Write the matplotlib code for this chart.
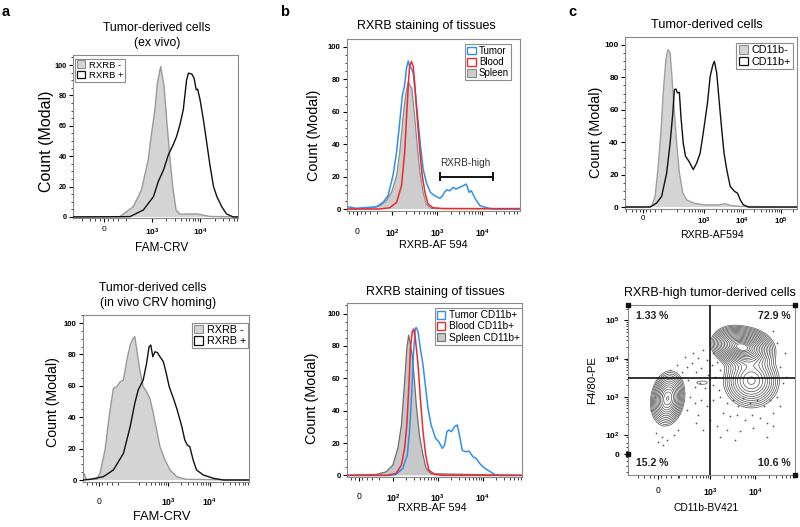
import numpy as np
import matplotlib
matplotlib.use('Agg')
import matplotlib.pyplot as plt
from matplotlib.patches import Patch
from matplotlib.ticker import FixedLocator, MultipleLocator

plt.rcParams['font.family'] = ['Liberation Sans', 'DejaVu Sans']
plt.rcParams['mathtext.fontset'] = 'custom'
plt.rcParams['mathtext.rm'] = 'Liberation Sans'
plt.rcParams['mathtext.bf'] = 'Liberation Sans:bold'
plt.rcParams['mathtext.it'] = 'Liberation Sans:italic'

# ---------------- data (x in display-decade units of the cytometer axis) ----------------
# Panel a, top: FAM-CRV ex vivo
a1_neg_x = [1.35, 2.33, 2.61, 2.78, 2.92, 2.99, 3.06, 3.11, 3.18, 3.25, 3.31, 3.375, 3.44, 3.50, 3.58, 3.93, 4.21, 4.79]
a1_neg_y = [0, 0.2, 6.8, 17.8, 37.6, 55.2, 70.5, 88, 99, 86, 62, 37.6, 17.8, 4.6, 1.8, 2, 0.3, 0]
a1_pos_x = [1.35, 2.54, 2.82, 3.03, 3.13, 3.24, 3.34, 3.44, 3.51, 3.58, 3.65, 3.72, 3.76, 3.83, 3.875,
            3.92, 3.95, 4.0, 4.07, 4.14, 4.21, 4.28, 4.35, 4.45, 4.55, 4.69, 4.79]
a1_pos_y = [0, 0.2, 4.6, 13.4, 23.3, 31, 40.9, 47.5, 52.9, 60.6, 70.5, 90.3, 94.7, 94, 91.4,
            83.7, 84.1, 77.1, 63.9, 48.6, 33.2, 20, 13.4, 6.8, 2, 0, 0]

# Panel a, bottom: FAM-CRV in vivo homing
a2_neg_x = [0.98, 1.0, 1.06, 1.30, 1.38, 1.50, 1.62, 1.70, 1.78, 1.86, 1.94, 2.02, 2.10, 2.17, 2.21,
            2.27, 2.33, 2.41, 2.49, 2.57, 2.65, 2.73, 2.81, 2.93, 3.05, 3.21, 3.44, 4.93]
a2_neg_y = [3, 4.2, 0.4, 0.4, 4.2, 19.1, 44.6, 58.4, 59.4, 62.6, 63.7, 76.4, 86, 90.2, 91.3,
            80.7, 70, 59.4, 56.2, 52, 42.5, 31.8, 21.2, 12.7, 6.4, 2.1, 0.4, 0]
a2_pos_x = [0.98, 1.14, 1.46, 1.70, 1.94, 2.10, 2.21, 2.29, 2.41, 2.49, 2.55, 2.59, 2.64, 2.69, 2.75,
            2.81, 2.89, 2.95, 3.03, 3.13, 3.22, 3.33, 3.40, 3.46, 3.52, 3.60, 3.68, 3.84, 4.08, 4.32, 4.93]
a2_pos_y = [0, 0.4, 2.1, 6.4, 17, 34, 48.9, 57.3, 63.7, 74.3, 84.9, 86, 78.5, 81.7, 81.1,
            78.5, 75.4, 69, 59.4, 52, 44.6, 34, 25.5, 22.3, 21.2, 12.7, 6.4, 3.2, 1.1, 0, 0]

# Panel b, top: RXRB staining of tissues
b1_spl_x = [1.0, 1.50, 1.73, 1.87, 1.99, 2.10, 2.17, 2.24, 2.30, 2.36, 2.39, 2.44, 2.50, 2.56, 2.62,
            2.69, 2.76, 2.87, 4.84]
b1_spl_y = [0, 0.4, 2.1, 5.1, 10.3, 20.6, 35, 55.6, 70.4, 78.6, 76.5, 74.5, 57.6, 39.1, 22.6,
            10.3, 3.1, 0.4, 0]
b1_bld_x = [1.0, 1.73, 1.95, 2.10, 2.21, 2.28, 2.32, 2.36, 2.39, 2.43, 2.47, 2.50, 2.56, 2.62, 2.67,
            2.73, 2.80, 2.91, 3.13, 4.84]
b1_bld_y = [0, 0, 0.8, 4.1, 14.4, 35, 55.6, 76.5, 87.9, 91, 87.9, 78.6, 55.6, 35, 20.6,
            10.3, 3.1, 0.8, 0.3, 0.3]
b1_tum_x = [1.0, 1.2, 1.65, 1.80, 1.91, 2.02, 2.10, 2.17, 2.23, 2.28, 2.32, 2.36, 2.39, 2.43, 2.47,
            2.52, 2.58, 2.63, 2.69, 2.76, 2.85, 2.95, 3.06, 3.12, 3.17, 3.22, 3.28, 3.36, 3.42, 3.50,
            3.58, 3.65, 3.71, 3.76, 3.84, 3.95, 4.10, 4.24, 4.84]
b1_tum_y = [1.5, 0.5, 1.4, 4.1, 8.2, 20.6, 35, 53.5, 70.4, 76.5, 86.8, 91.4, 87.9, 86.8, 83.7,
            70.4, 53.5, 39.1, 24.7, 16.5, 10.3, 8.2, 6.6, 8.2, 10.7, 11.9, 11.3, 13.4, 12.3, 13.4,
            14.4, 15.4, 10.3, 11.3, 6.6, 2.1, 0.8, 0, 0]
b1_high_range = [3.07, 4.23]

# Panel b, bottom: CD11b+ cells
b2_spl_x = [0.98, 1.63, 1.85, 2.0, 2.11, 2.19, 2.26, 2.31, 2.35, 2.38, 2.43, 2.47, 2.52, 2.59, 2.67,
            2.74, 2.85, 4.87]
b2_spl_y = [0, 0.6, 2.2, 6.4, 16.7, 31.1, 57.8, 78.4, 86.6, 82.5, 74.2, 61.9, 43.5, 24.9, 12.5,
            4.3, 1.0, 0]
b2_bld_x = [0.98, 1.85, 2.07, 2.19, 2.26, 2.31, 2.36, 2.39, 2.43, 2.46, 2.50, 2.56, 2.61, 2.67, 2.73,
            2.80, 2.93, 3.11, 4.87]
b2_bld_y = [0, 0, 1.2, 6.4, 16.7, 31.1, 57.8, 78.4, 88.7, 90.4, 84.6, 68.1, 47.6, 27, 12.5,
            3.2, 0.6, 0, 0]
b2_tum_x = [0.98, 1.93, 2.07, 2.22, 2.32, 2.37, 2.42, 2.46, 2.50, 2.52, 2.56, 2.61, 2.67, 2.73, 2.78,
            2.85, 2.95, 3.02, 3.10, 3.15, 3.20, 3.24, 3.30, 3.37, 3.43, 3.48, 3.54, 3.61, 3.69, 3.78,
            3.85, 3.93, 4.0, 4.11, 4.26, 4.37, 4.87]
b2_tum_y = [0, 0, 0.6, 4.3, 12.5, 27, 51.7, 76.3, 90.9, 91.3, 88.7, 78.4, 68.1, 53.7, 41.4,
            31.1, 22.8, 20.8, 16.7, 18.7, 27, 28, 27, 30.1, 31.1, 24.9, 15.6, 14.6, 15, 11.5,
            10.5, 7.4, 5.3, 3.2, 0.6, 0, 0]

# Panel c, top: CD11b- / CD11b+
c1_neg_x = [0.95, 1.64, 1.73, 1.81, 1.88, 1.94, 2.01, 2.06, 2.12, 2.16, 2.22, 2.29, 2.36, 2.45, 2.55,
            2.72, 2.98, 3.42, 3.55, 3.68, 3.94, 5.41]
c1_neg_y = [0, 0.4, 6.6, 25.1, 45.7, 70.4, 91, 97.1, 95.1, 82.7, 62.1, 39.5, 21, 8.6, 4.5,
            2.5, 1.4, 1.4, 2.1, 1.0, 0.4, 0]
c1_pos_x = [0.95, 1.60, 1.77, 1.90, 2.03, 2.12, 2.19, 2.23, 2.27, 2.31, 2.36, 2.40, 2.46, 2.52, 2.61,
            2.72, 2.81, 2.90, 2.98, 3.09, 3.16, 3.23, 3.27, 3.33, 3.39, 3.46, 3.52, 3.59, 3.68, 3.79,
            3.87, 3.94, 4.02, 4.15, 5.41]
c1_pos_y = [0, 0, 2.5, 6.6, 21, 39.5, 58, 72.4, 72.8, 70.4, 70.8, 55.9, 39.5, 31.3, 28.2,
            23.1, 27.2, 33.3, 45.7, 64.2, 80.6, 87.8, 89.9, 82.7, 66.3, 47.7, 33.3, 23.1, 12.8, 9.7,
            8.6, 4.5, 1.4, 0, 0]

# Panel c, bottom: contour populations (x = CD11b, y = F4/80, display units)
pop_cx = [2.06, 3.78, 3.92, 3.45, 2.82]
pop_cy = [2.96, 4.28, 3.42, 4.42, 3.37]
pop_sx = [0.17, 0.28, 0.29, 0.20, 0.16]
pop_sy = [0.32, 0.23, 0.33, 0.20, 0.06]
pop_rho = [0.15, -0.1, 0.0, 0.0, 0.0]
pop_amp = [0.70, 1.00, 0.55, 0.35, 0.07]
quad_labels = ['1.33 %', '72.9 %', '15.2 %', '10.6 %']
dot_x = [2.48, 2.59, 2.70, 2.81, 2.93, 3.04, 3.15, 2.52, 2.67, 2.78, 2.89, 3.07, 3.19, 2.37, 2.26, 2.11,
         2.74, 2.96, 3.11, 3.22, 2.56, 2.67, 2.81, 2.48, 2.74, 2.93, 3.07, 3.22, 3.37, 3.52, 3.63, 3.74,
         3.89, 4.04, 4.19, 4.33, 4.48, 3.30, 3.44, 3.59, 3.78, 3.93, 4.11, 4.26, 4.41, 4.56, 3.15, 2.85,
         2.70, 3.0, 3.37, 3.67, 3.96, 4.26, 3.56, 3.22, 4.41, 1.81, 1.93, 2.04, 2.19, 1.85, 1.96, 2.30,
         4.56, 4.67, 4.48, 4.63, 4.70, 4.41, 2.63, 2.85, 3.07, 2.44, 1.70, 1.78, 2.41]
dot_y = [3.79, 3.88, 3.66, 3.75, 3.97, 3.84, 3.92, 3.44, 3.27, 3.36, 3.23, 3.31, 3.18, 3.66, 3.84, 3.71,
         4.01, 3.57, 3.53, 3.71, 3.01, 2.84, 2.92, 2.66, 2.53, 2.75, 2.92, 3.01, 2.84, 2.92, 2.75, 2.97,
         2.84, 2.92, 2.75, 2.92, 3.01, 2.57, 2.49, 2.53, 2.40, 2.53, 2.44, 2.31, 2.57, 2.75, 2.23, 2.14,
         2.31, 2.40, 2.14, 2.10, 2.18, 1.96, 1.88, 1.96, 2.23, 2.05, 1.96, 1.88, 2.01, 1.83, 1.75, 2.14,
         3.79, 4.14, 4.40, 3.36, 3.53, 4.71, 4.14, 4.23, 4.14, 4.05, 2.66, 3.01, 3.10]

# ---------------- figure ----------------
W, H = 800, 527
fig = plt.figure(figsize=(8, 5.27), dpi=100)


def rect(l, t, r, b):
    return [l / W, 1 - b / H, (r - l) / W, (b - t) / H]


def ftext(x, y, s, **kw):
    kw.setdefault('ha', 'center')
    kw.setdefault('va', 'center')
    fig.text(x / W, 1 - y / H, s, **kw)


def dec_label(n):
    return r'$\mathbf{10^{%d}}$' % n


def x_minors(zero, decades, xmin, xmax):
    pts = []
    for n in decades:
        for k in range(2, 10):
            v = n + np.log10(k)
            if xmin < v < xmax:
                pts.append(v)
    for off in (-0.45, -0.3, -0.18, -0.08, 0.08, 0.18, 0.3, 0.45):
        v = zero + off
        if xmin < v < xmax:
            pts.append(v)
    return pts


def style_axes(ax, xlim, ylim, xt, xtl, xminor, xpad, ysize=5.6, xsize=6.2):
    ax.set_xlim(xlim)
    ax.set_ylim(ylim)
    ax.set_xticks(xt)
    ax.set_xticklabels(xtl, fontsize=xsize)
    ax.xaxis.set_minor_locator(FixedLocator(xminor))
    ax.tick_params(which='major', direction='out', length=3, width=0.8, color='k')
    ax.tick_params(which='minor', direction='out', length=1.8, width=0.6, color='#222')
    ax.tick_params(axis='x', pad=xpad)
    ax.tick_params(axis='y', pad=1.5, labelsize=ysize)
    for lab in ax.get_yticklabels():
        lab.set_fontweight('bold')
    for sp in ax.spines.values():
        sp.set_color('#8a8a8a')
        sp.set_linewidth(0.8)


def hist_y(ax, ysize=5.6):
    ax.set_yticks([0, 20, 40, 60, 80, 100])
    ax.set_yticklabels(['0', '20', '40', '60', '80', '100'], fontweight='bold', fontsize=ysize)
    ax.yaxis.set_minor_locator(MultipleLocator(5))


def gray_fill(ax, x, y, fc='#d4d4d4', ec='#9a9a9a', lw=1.0, z=1):
    ax.fill_between(x, y, 0, facecolor=fc, edgecolor='none', zorder=z)
    ax.plot(x, y, color=ec, lw=lw, zorder=z + 0.1)


def leg(ax, handles, labels, loc, anchor, size):
    lg = ax.legend(handles, labels, loc=loc, bbox_to_anchor=anchor, fontsize=size,
                   handlelength=0.85, handleheight=0.85, handletextpad=0.35, labelspacing=0.12,
                   borderpad=0.2, borderaxespad=0, fancybox=False, framealpha=1)
    lg.get_frame().set_edgecolor('#8c8c8c')
    lg.get_frame().set_linewidth(0.8)
    return lg


neg_patch = Patch(facecolor='#d4d4d4', edgecolor='#8f8f8f', lw=0.8)
pos_patch = Patch(facecolor='white', edgecolor='#111111', lw=0.9)

# ---- a top ----
ax = fig.add_axes(rect(73, 55, 238, 218))
gray_fill(ax, a1_neg_x, a1_neg_y)
ax.plot(a1_pos_x, a1_pos_y, color='#111111', lw=1.0, zorder=3)
hist_y(ax, 5.2)
style_axes(ax, (1.354, 4.79), (-0.7, 106.6), [2.0, 3, 4], ['0', dec_label(3), dec_label(4)],
           x_minors(2.0, [3, 4], 1.354, 4.79), 3.0, ysize=5.2, xsize=6.0)
leg(ax, [neg_patch, pos_patch], ['RXRB -', 'RXRB +'], 'upper left', (0.015, 0.978), 6.8)
ftext(157, 28, 'Tumor-derived cells', fontsize=8.8)
ftext(157, 43, '(ex vivo)', fontsize=8.8)
ftext(47, 141, 'Count (Modal)', fontsize=11.5, rotation=90)
ftext(162, 248, 'FAM-CRV', fontsize=8.6)
ftext(6, 12, 'a', fontsize=10.5, fontweight='bold')

# ---- a bottom ----
ax = fig.add_axes(rect(83, 315, 249, 482))
gray_fill(ax, a2_neg_x, a2_neg_y)
ax.plot(a2_pos_x, a2_pos_y, color='#111111', lw=1.0, zorder=3)
hist_y(ax, 5.6)
style_axes(ax, (0.976, 4.93), (-1.27, 105.1), [1.36, 3, 4], ['0', dec_label(3), dec_label(4)],
           x_minors(1.36, [2, 3, 4], 0.976, 4.93), 7.5)
leg(ax, [neg_patch, pos_patch], ['RXRB -', 'RXRB +'], 'upper right', (0.995, 0.955), 7.8)
ftext(153, 288, 'Tumor-derived cells', fontsize=8.8)
ftext(158, 303, '(in vivo CRV homing)', fontsize=8.8)
ftext(53, 402, 'Count (Modal)', fontsize=10.2, rotation=90)
ftext(162, 517, 'FAM-CRV', fontsize=9.3)

# ---- b top ----
blue = '#2f8ff0'
red = '#ee2a2a'
ax = fig.add_axes(rect(347, 39, 520, 211))
gray_fill(ax, b1_spl_x, b1_spl_y, fc='#cdcdcd', ec='#8c8c8c', lw=0.9, z=1)
ax.plot(b1_bld_x, b1_bld_y, color=red, lw=1.1, zorder=3)
ax.plot(b1_tum_x, b1_tum_y, color=blue, lw=1.1, zorder=2.5)
hb = 20
ax.plot(b1_high_range, [hb, hb], color='#111111', lw=1.4, zorder=4)
for xe in b1_high_range:
    ax.plot([xe, xe], [hb - 2.2, hb + 2.2], color='#111111', lw=1.4, zorder=4)
ax.text(np.mean(b1_high_range) - 0.03, hb + 8.6, 'RXRB-high', ha='center', va='center',
        fontsize=7.2, color='#333333')
hist_y(ax, 5.8)
style_axes(ax, (1.0, 4.84), (-1.2, 104.9), [1.22, 2, 3, 4], ['0', dec_label(2), dec_label(3), dec_label(4)],
           x_minors(1.22, [2, 3, 4], 1.0, 4.84), 8.5)
leg(ax, [Patch(facecolor='white', edgecolor=blue, lw=1.0), Patch(facecolor='white', edgecolor=red, lw=1.0),
         Patch(facecolor='#cdcdcd', edgecolor='#8c8c8c', lw=0.8)],
    ['Tumor', 'Blood', 'Spleen'], 'upper right', (0.948, 0.971), 7.0)
ftext(426, 26, 'RXRB staining of tissues', fontsize=9)
ftext(314, 135, 'Count (Modal)', fontsize=10.4, rotation=90)
ftext(433, 245, 'RXRB-AF 594', fontsize=7.8)
ftext(285, 12, 'b', fontsize=10.5, fontweight='bold')

# ---- b bottom ----
ax = fig.add_axes(rect(347, 303, 522, 477))
gray_fill(ax, b2_spl_x, b2_spl_y, fc='#c8c8c8', ec='#6e6e6e', lw=0.9, z=1)
ax.plot(b2_bld_x, b2_bld_y, color=red, lw=1.1, zorder=3)
ax.plot(b2_tum_x, b2_tum_y, color=blue, lw=1.1, zorder=2.5)
hist_y(ax, 5.8)
style_axes(ax, (0.98, 4.87), (-1.0, 106.5), [1.24, 2, 3, 4], ['0', dec_label(2), dec_label(3), dec_label(4)],
           x_minors(1.24, [2, 3, 4], 0.98, 4.87), 8.0)
leg(ax, [Patch(facecolor='white', edgecolor=blue, lw=1.0), Patch(facecolor='white', edgecolor=red, lw=1.0),
         Patch(facecolor='#c8c8c8', edgecolor='#6e6e6e', lw=0.8)],
    ['Tumor CD11b+', 'Blood CD11b+', 'Spleen CD11b+'], 'upper right', (1.0, 0.971), 7.3)
ftext(435, 292, 'RXRB staining of tissues', fontsize=9)
ftext(312, 398, 'Count (Modal)', fontsize=10.4, rotation=90)
ftext(432, 508, 'RXRB-AF 594', fontsize=7.8)

# ---- c top ----
ax = fig.add_axes(rect(625, 37, 797, 209))
gray_fill(ax, c1_neg_x, c1_neg_y, fc='#d4d4d4', ec='#a0a0a0')
ax.plot(c1_pos_x, c1_pos_y, color='#111111', lw=1.0, zorder=3)
hist_y(ax, 6.0)
style_axes(ax, (0.948, 5.415), (-1.2, 104.9), [1.42, 3, 4, 5],
           ['0', dec_label(3), dec_label(4), dec_label(5)],
           x_minors(1.42, [2, 3, 4, 5], 0.948, 5.415), 1.5, ysize=6.0, xsize=5.8)
leg(ax, [neg_patch, pos_patch], ['CD11b-', 'CD11b+'], 'upper right', (0.977, 0.965), 7.8)
ftext(707, 25, 'Tumor-derived cells', fontsize=9.2)
ftext(596, 132, 'Count (Modal)', fontsize=10.4, rotation=90)
ftext(712, 235, 'RXRB-AF594', fontsize=7.6)
ftext(572, 12, 'c', fontsize=10.5, fontweight='bold')

# ---- c bottom (contour) ----
ax = fig.add_axes(rect(628, 305, 795, 475))
xl, yl = (1.178, 4.889), (0.96, 5.40)
gx = np.linspace(xl[0], xl[1], 360)
gy = np.linspace(yl[0], yl[1], 360)
GX, GY = np.meshgrid(gx, gy)
Z = np.zeros_like(GX)
for cx, cy, sx, sy, rho, a in zip(pop_cx, pop_cy, pop_sx, pop_sy, pop_rho, pop_amp):
    u = (GX - cx) / sx
    v = (GY - cy) / sy
    Z += a * np.exp(-0.5 * (u * u - 2 * rho * u * v + v * v) / (1 - rho * rho))
ring_r = np.linspace(0.35, 2.45, 18)
levels = np.sort(Z.max() * np.exp(-0.5 * ring_r ** 2))
ax.contour(GX, GY, Z, levels=levels, colors='#5e5e5e', linewidths=0.55, zorder=2)
ax.scatter(dot_x, dot_y, s=1.6, color='#555555', linewidths=0, zorder=2)
ax.axvline(3.0, color='#111111', lw=1.2, zorder=4)
ax.axhline(3.5, color='#111111', lw=1.2, zorder=4)
qpos = [(1.72, 5.115), (4.44, 5.115), (1.72, 1.28), (4.42, 1.28)]
for (qx, qy), s in zip(qpos, quad_labels):
    ax.text(qx, qy, s, ha='center', va='center', fontsize=7.6, fontweight='bold', color='#222222', zorder=5)
style_axes(ax, xl, yl, [1.84, 3, 4], ['0', dec_label(3), dec_label(4)],
           x_minors(1.84, [2, 3, 4], xl[0], xl[1]), 5.0)
ax.set_yticks([1.5, 2, 3, 4, 5])
ax.set_yticklabels(['0', dec_label(2), dec_label(3), dec_label(4), dec_label(5)], fontsize=6.0)
ax.yaxis.set_minor_locator(FixedLocator(x_minors(1.5, [2, 3, 4, 5], yl[0], yl[1])))
ax.tick_params(axis='y', pad=3)
for (mx, my) in [(xl[0], yl[1]), (xl[1], yl[1]), (xl[1], yl[0]), (xl[0], 1.5)]:
    ax.plot([mx], [my], marker='s', ms=2.6, color='#111111', clip_on=False, zorder=6)
ftext(710, 293, 'RXRB-high tumor-derived cells', fontsize=9.0)
ftext(592, 380, 'F4/80-PE', fontsize=8.2, rotation=90)
ftext(706, 508, 'CD11b-BV421', fontsize=7.4)

fig.savefig('out.png', dpi=100)
